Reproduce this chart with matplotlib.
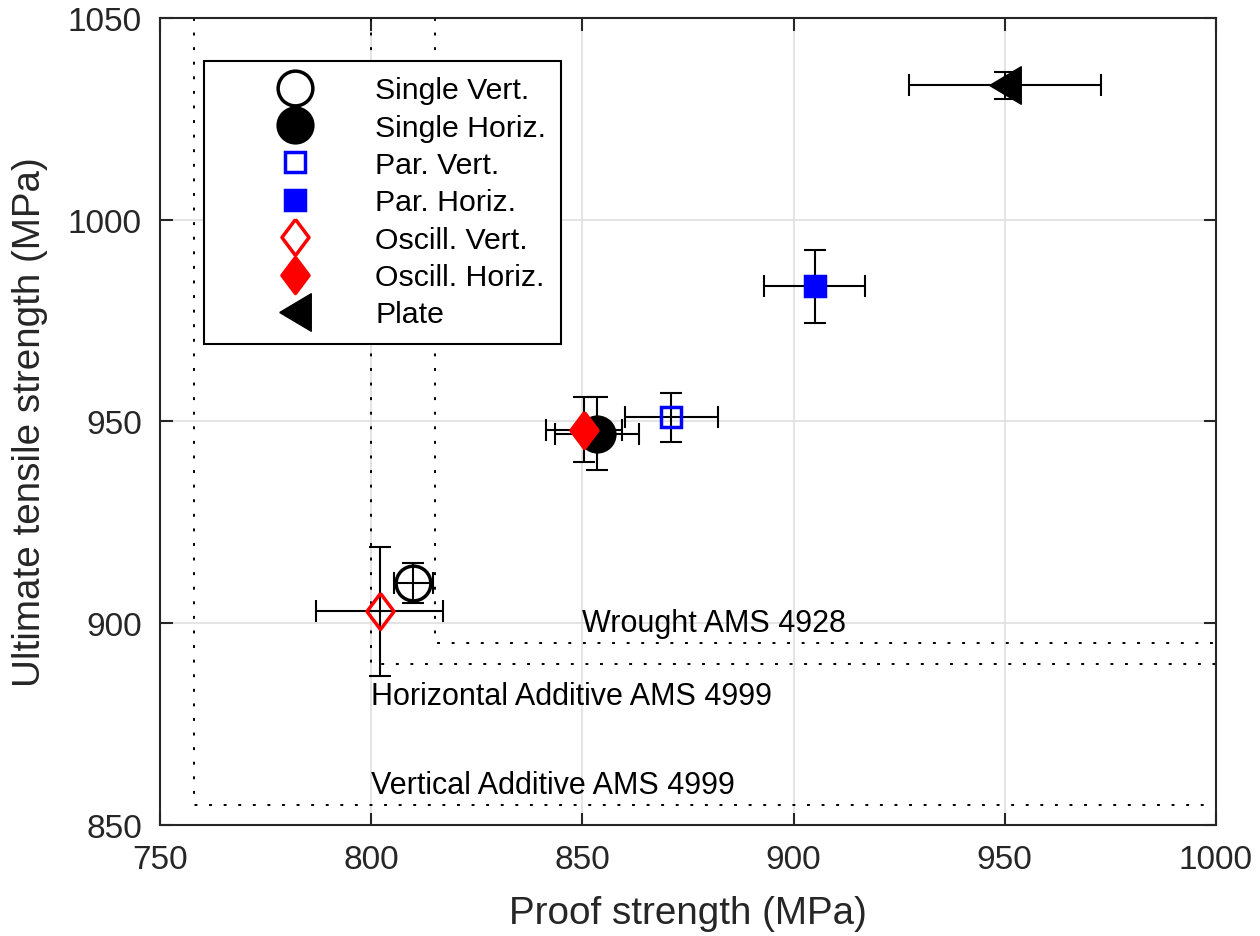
import numpy as np
import matplotlib
matplotlib.use('Agg')
import matplotlib.pyplot as plt

# mean proof / tensile strength with standard deviations (MPa)
labels = ['Single Vert.', 'Single Horiz.', 'Par. Vert.', 'Par. Horiz.',
          'Oscill. Vert.', 'Oscill. Horiz.', 'Plate']
proof = [810.0, 853.5, 871.0, 905.0, 802.0, 850.5, 950.0]
proof_sd = [4.7, 10.0, 11.0, 12.0, 15.0, 9.0, 22.7]
uts = [910.0, 947.0, 951.0, 983.5, 903.0, 948.0, 1033.3]
uts_sd = [5.0, 9.0, 6.0, 9.0, 16.0, 8.0, 3.3]

# specification minimums: (proof, uts, text, text x, text y)
spec_names = ['Vertical Additive AMS 4999', 'Horizontal Additive AMS 4999',
              'Wrought AMS 4928']
spec_proof = [758, 800, 815]
spec_uts = [855, 890, 895]
spec_text_x = [800, 800, 850]
spec_text_y = [858, 880, 898]

# marker shapes
diamond = [(0, 1), (0.75, 0), (0, -1), (-0.75, 0), (0, 1)]
left_tri = [(-0.84, 0), (0.84, 1), (0.84, -1), (-0.84, 0)]
styles = [
    dict(marker='o', ms=25, mfc='none', mec='black', mew=2.5),
    dict(marker='o', ms=25, mfc='black', mec='black', mew=2.5),
    dict(marker='s', ms=15, mfc='none', mec='#0000ff', mew=2.5),
    dict(marker='s', ms=15, mfc='#0000ff', mec='#0000ff', mew=2.5),
    dict(marker=diamond, ms=26, mfc='none', mec='#ff0000', mew=2.5),
    dict(marker=diamond, ms=26, mfc='#ff0000', mec='#ff0000', mew=2.5),
    dict(marker=left_tri, ms=27, mfc='black', mec='black', mew=1.0),
]

plt.rcParams['font.family'] = ['Liberation Sans', 'DejaVu Sans']
axis_col = '#262626'

fig = plt.figure(figsize=(12.6, 9.37), dpi=100)
ax = fig.add_axes([0.127, 0.1185, 0.838, 0.8612])

ax.grid(True, color='#dfdfdf', linewidth=1.2, zorder=0)
ax.set_axisbelow(True)

# spec limits drawn as corner lines
for sx, sy, name, tx, ty in zip(spec_proof, spec_uts, spec_names,
                                spec_text_x, spec_text_y):
    ax.plot([sx, sx, 1000], [1050, sy, sy], color='black', lw=1.4,
            linestyle=(0, (1.5, 6)), zorder=1)
    ax.text(tx, ty, name, fontsize=22, va='baseline', ha='left', zorder=2)

handles = []
for i in range(len(labels)):
    ax.errorbar(proof[i], uts[i], xerr=proof_sd[i], yerr=uts_sd[i],
                fmt='none', ecolor='black', elinewidth=1.5, capsize=8,
                capthick=1.5, zorder=3 + 2 * i)
    h, = ax.plot(proof[i], uts[i], linestyle='none', label=labels[i],
                 zorder=4 + 2 * i, **styles[i])
    handles.append(h)

ax.set_xlim(750, 1000)
ax.set_ylim(850, 1050)
ax.set_xticks([750, 800, 850, 900, 950, 1000])
ax.set_yticks([850, 900, 950, 1000, 1050])

ax.tick_params(direction='in', length=9, width=1.5, colors=axis_col,
               labelsize=24, top=True, right=True)
ax.tick_params(axis='x', pad=14)
ax.tick_params(axis='y', pad=13)
for sp in ax.spines.values():
    sp.set_color(axis_col)
    sp.set_linewidth(1.5)

ax.set_xlabel('Proof strength (MPa)', fontsize=27.8, color=axis_col, labelpad=14)
ax.set_ylabel('Ultimate tensile strength (MPa)', fontsize=27.8,
              color=axis_col, labelpad=14)

leg = ax.legend(handles=handles, loc='upper left',
                bbox_to_anchor=(0.0417, 0.9467), borderaxespad=0,
                fontsize=21.8, frameon=True, fancybox=False, framealpha=1,
                edgecolor='black', borderpad=0.5, labelspacing=0.31,
                handlelength=5.0, handletextpad=0.15)
leg.get_frame().set_linewidth(1.5)
leg.set_zorder(30)

fig.savefig('out.png', dpi=100)
